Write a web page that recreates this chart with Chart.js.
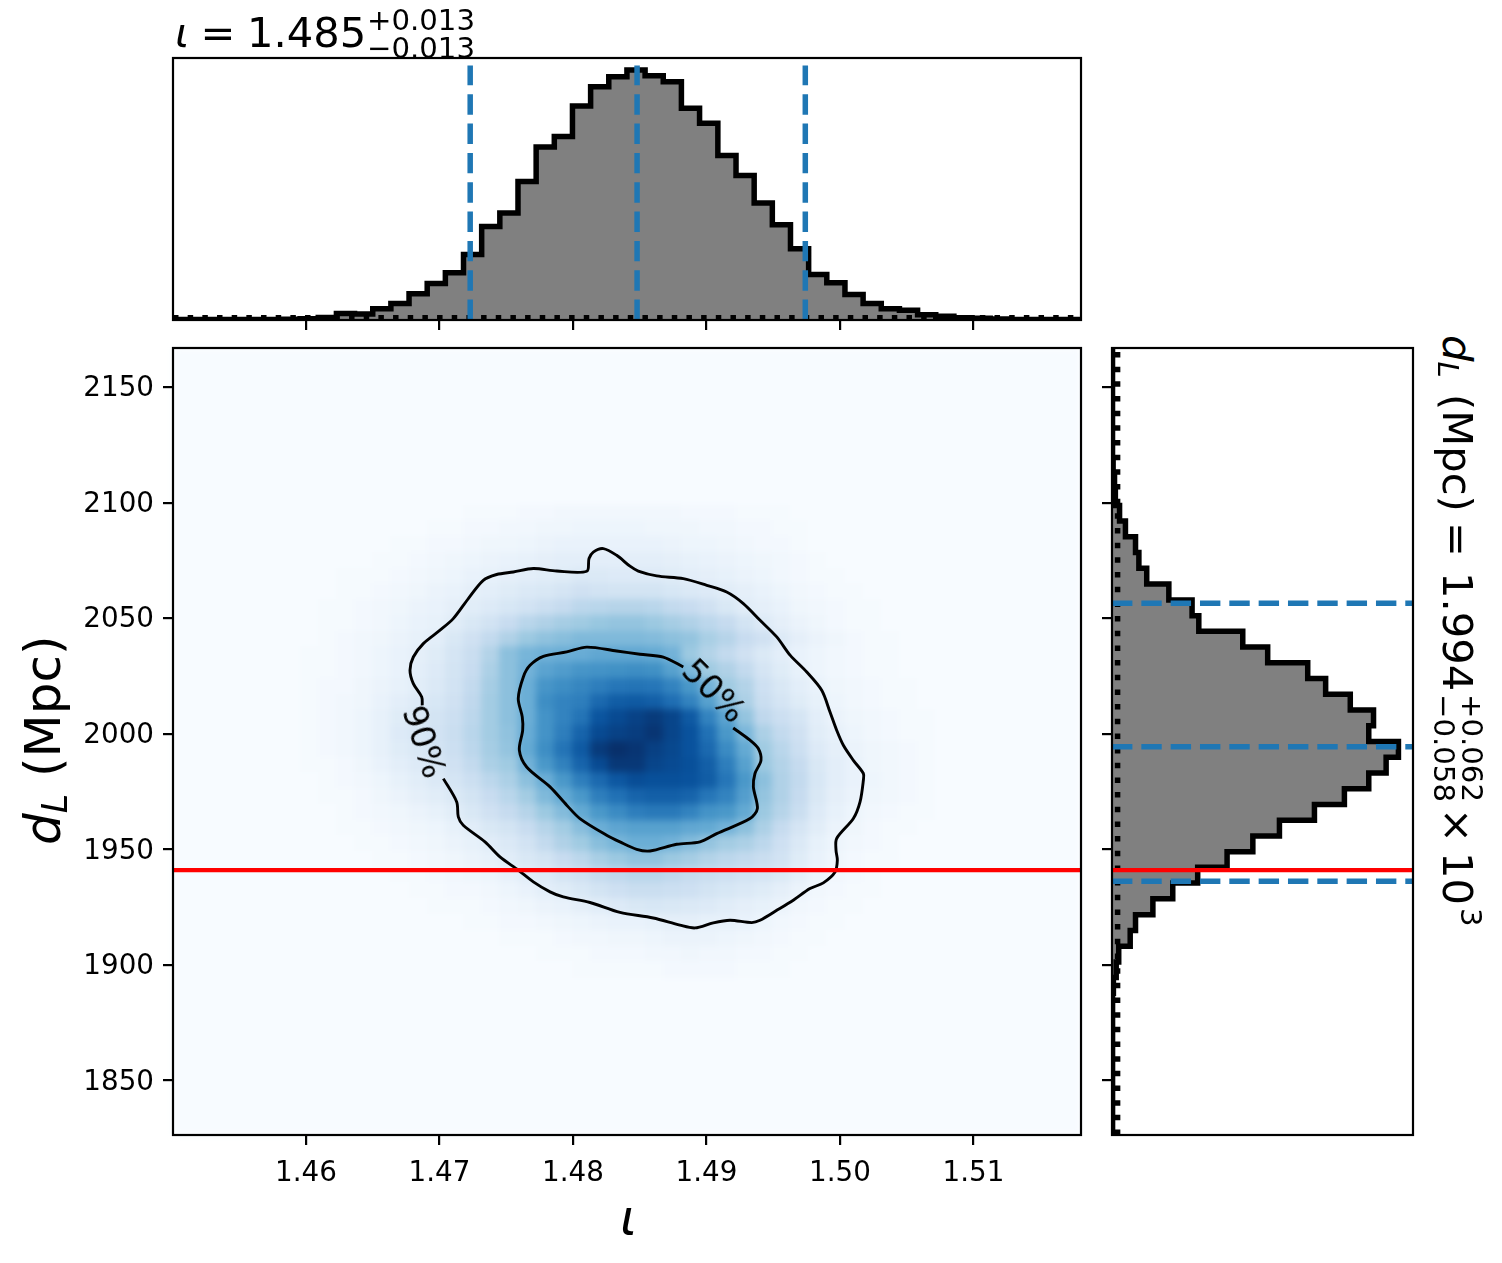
<!DOCTYPE html>
<html><head><meta charset="utf-8">
<style>
html,body{margin:0;padding:0;background:#fff;width:1502px;height:1263px;overflow:hidden}
canvas{position:absolute}
#heat{filter:blur(3.5px)}
.t{position:absolute;line-height:1;white-space:nowrap;font-family:"DejaVu Sans";color:#000}
.g{position:absolute;left:0;top:0;transform-origin:0 0}
</style>
<script src="https://cdn.jsdelivr.net/npm/chart.js@4/dist/chart.umd.js"></script>
</head><body>
<canvas id="top" style="left:0;top:28px" width="1100" height="312"></canvas>
<canvas id="heat" style="left:0;top:318px" width="1100" height="877"></canvas>
<canvas id="main" style="left:0;top:318px" width="1100" height="877"></canvas>
<canvas id="side" style="left:1090px;top:318px" width="340" height="837"></canvas>
<script>
const iotaTicks=[1.46,1.47,1.48,1.49,1.50,1.51];
const dLTicks=[1850,1900,1950,2000,2050,2100,2150];
const iotaRange=[1.45004,1.51805];
const dLRange=[1826.4,2166.9];
const iotaEdges=[1.45004,1.45140,1.45276,1.45412,1.45548,1.45684,1.45820,1.45956,1.46092,1.46228,1.46364,1.46500,1.46636,1.46772,1.46908,1.47044,1.47180,1.47316,1.47452,1.47588,1.47724,1.47860,1.47996,1.48132,1.48268,1.48404,1.48540,1.48676,1.48812,1.48948,1.49085,1.49221,1.49357,1.49493,1.49629,1.49765,1.49901,1.50037,1.50173,1.50309,1.50445,1.50581,1.50717,1.50853,1.50989,1.51125,1.51261,1.51397,1.51533,1.51669,1.51805];
const dLEdges=[1826.4,1833.2,1840.0,1846.8,1853.6,1860.5,1867.3,1874.1,1880.9,1887.7,1894.5,1901.3,1908.1,1914.9,1921.7,1928.6,1935.4,1942.2,1949.0,1955.8,1962.6,1969.4,1976.2,1983.0,1989.8,1996.7,2003.5,2010.3,2017.1,2023.9,2030.7,2037.5,2044.3,2051.1,2057.9,2064.8,2071.6,2078.4,2085.2,2092.0,2098.8,2105.6,2112.4,2119.2,2126.0,2132.9,2139.7,2146.5,2153.3,2160.1,2166.9];
const iotaHist=[.002,.002,.002,.002,.002,.002,.003,.005,.010,.026,.024,.045,.066,.105,.146,.189,.262,.375,.429,.555,.693,.735,.858,.935,.975,1.002,.979,.955,.849,.789,.659,.579,.469,.382,.286,.182,.149,.102,.066,.045,.039,.021,.015,.009,.007,.004,.002,.002,.002,.002];
const dLHist=[.002,.002,.002,.002,.002,.002,.002,.002,.002,.005,.015,.024,.065,.084,.146,.217,.306,.411,.503,.598,.723,.830,.917,.979,1.023,.917,.934,.851,.763,.699,.556,.467,.310,.286,.203,.124,.096,.084,.048,.027,.012,.009,.004,.002,.002,.002,.002,.002,.002,.002];
const iotaQuantiles=[1.4723,1.4848,1.4974];
const dLQuantiles=[1936.2,1994.4,2056.5];
const dLTrue=[1941.0];
const iotaPrior=[.009];
const dLPrior=[.020];
const heatFirstColumn=7;
const heatTopBin=39;
const density=[
[0,0,0,0,0,0,0,0,0,1,1,1,2,2,3,3,3,3,3,3,3,2,2,2,1,1,1,0,0,0,0,0,0,0,0,0],
[0,0,0,0,0,0,0,1,1,2,2,3,3,4,4,5,5,5,5,4,4,4,3,3,2,2,1,1,0,0,0,0,0,0,0,0],
[0,0,0,0,0,1,1,2,2,3,4,4,5,6,7,7,7,7,7,7,6,5,5,4,3,2,2,1,0,0,0,0,0,0,0,0],
[0,0,0,0,1,1,2,3,4,5,6,7,8,9,10,10,10,10,10,10,9,8,7,6,5,4,3,2,1,0,0,0,0,0,0,0],
[0,0,1,1,1,2,3,4,5,7,8,9,10,11,12,14,14,13,13,13,12,10,9,8,6,5,3,2,1,1,0,0,0,0,0,0],
[0,0,1,1,2,3,4,6,7,9,10,12,14,15,17,20,19,18,18,18,16,14,13,11,9,7,5,3,2,1,1,0,0,0,0,0],
[0,1,1,2,3,4,6,7,9,11,13,16,19,22,25,28,29,30,30,29,26,24,20,15,11,9,7,4,3,2,1,1,0,0,0,0],
[0,1,1,2,3,5,7,8,11,15,19,24,29,32,35,37,39,40,40,38,35,32,28,25,18,13,9,6,4,2,1,1,0,0,0,0],
[0,1,2,3,4,6,8,10,15,20,26,32,38,41,43,45,45,45,45,44,42,40,34,30,24,20,13,9,6,4,2,1,1,0,0,0],
[1,1,2,3,5,7,9,12,17,23,31,42,47,49,50,51,53,53,53,52,48,38,31,26,20,14,10,7,5,3,2,1,1,0,0,0],
[1,1,2,3,5,7,10,13,18,24,33,42,48,55,58,61,62,63,64,63,56,46,37,32,26,17,12,8,5,3,2,1,1,0,0,0],
[1,2,2,4,6,8,11,14,19,26,35,42,50,61,64,67,70,73,74,73,68,60,48,37,31,21,15,10,7,4,3,2,1,1,0,0],
[1,2,3,4,7,10,13,16,20,27,36,42,50,64,68,70,78,83,84,82,76,68,56,43,33,23,17,12,8,5,3,2,1,1,0,0],
[1,2,3,5,8,12,15,18,22,28,36,42,50,62,68,74,86,90,93,96,92,84,68,55,40,27,22,17,10,6,4,3,2,1,1,0],
[1,2,3,5,8,13,16,19,23,29,36,41,51,62,70,80,90,93,95,98,92,87,75,60,46,33,26,20,11,8,5,3,2,1,1,0],
[1,2,3,5,8,12,15,18,22,28,35,40,52,64,74,84,96,100,98,94,91,87,78,65,52,37,29,22,13,9,6,4,3,2,1,0],
[1,1,2,4,7,10,13,16,20,26,33,37,48,60,69,80,90,97,97,92,90,88,82,70,56,38,31,25,15,10,7,4,3,2,1,0],
[0,1,2,3,5,8,11,14,17,22,28,33,42,50,60,70,78,85,89,88,88,87,83,73,60,42,32,26,16,10,7,5,3,2,1,0],
[0,1,1,2,4,6,9,11,14,18,24,29,36,45,52,60,70,75,80,82,82,80,73,68,57,40,32,25,15,9,6,4,3,2,1,0],
[0,0,1,2,3,4,6,8,11,15,20,25,30,38,44,52,60,65,70,72,72,68,62,60,52,38,30,23,13,8,5,3,2,1,1,0],
[0,0,1,1,2,3,4,5,8,11,15,18,24,30,36,43,50,54,56,56,56,53,52,48,42,33,25,17,11,6,4,2,1,1,0,0],
[0,0,0,1,1,2,3,4,6,8,11,14,19,26,32,37,43,47,50,50,48,44,40,36,33,28,21,14,8,5,3,2,1,0,0,0],
[0,0,0,0,1,1,2,3,4,6,8,11,15,18,24,28,34,38,41,41,38,35,31,28,26,23,19,12,7,4,2,1,1,0,0,0],
[0,0,0,0,0,1,1,2,3,4,5,8,11,13,17,20,25,27,29,29,27,25,23,21,19,17,14,9,5,3,2,1,0,0,0,0],
[0,0,0,0,0,0,1,1,2,2,3,5,7,10,12,15,18,21,23,23,22,21,18,16,14,12,9,6,3,2,1,1,0,0,0,0],
[0,0,0,0,0,0,0,1,1,1,2,3,4,6,7,9,11,13,15,16,15,14,13,11,9,8,6,3,2,1,1,0,0,0,0,0],
[0,0,0,0,0,0,0,0,0,1,1,2,2,3,4,5,6,7,7,8,9,9,8,8,7,5,3,2,1,1,0,0,0,0,0,0],
[0,0,0,0,0,0,0,0,0,0,0,1,1,1,2,3,3,4,4,5,6,6,6,5,4,3,2,1,1,0,0,0,0,0,0,0],
[0,0,0,0,0,0,0,0,0,0,0,0,0,1,1,1,2,2,2,3,3,4,3,3,2,2,1,1,0,0,0,0,0,0,0,0],
[0,0,0,0,0,0,0,0,0,0,0,0,0,0,0,1,1,1,1,1,2,2,2,2,1,1,1,0,0,0,0,0,0,0,0,0]
];
const contour90Iota=[1.46871,1.46867,1.46804,1.46779,1.46804,1.46879,1.47004,1.47103,1.47216,1.47328,1.47428,1.47553,1.47703,1.47878,1.48103,1.48120,1.48152,1.48227,1.48327,1.48427,1.48489,1.48627,1.48826,1.49002,1.49151,1.49276,1.49401,1.49526,1.49626,1.49751,1.49863,1.49925,1.49975,1.50025,1.50100,1.50175,1.50175,1.50150,1.50100,1.49975,1.49970,1.49980,1.49963,1.49875,1.49775,1.49650,1.49526,1.49401,1.49339,1.49176,1.49051,1.48914,1.48801,1.48601,1.48352,1.48127,1.47927,1.47828,1.47703,1.47590,1.47453,1.47341,1.47178,1.47141,1.47129,1.47029];
const contour90dL=[2012.3,2015.9,2021.7,2027.5,2033.2,2039.0,2044.8,2049.8,2058.5,2066.4,2068.9,2070.0,2071.5,2070.4,2070.3,2075.8,2078.6,2080.1,2077.2,2072.5,2070.4,2068.3,2067.1,2064.2,2061.3,2056.3,2049.1,2041.9,2034.0,2026.7,2018.8,2009.4,2001.5,1995.0,1988.5,1982.8,1979.9,1970.5,1963.3,1954.7,1949.6,1945.3,1940.2,1935.5,1933.0,1928.0,1923.6,1919.3,1918.3,1919.3,1918.2,1916.0,1917.2,1920.3,1922.7,1927.0,1929.4,1931.6,1935.9,1941.0,1946.7,1953.2,1960.4,1964.0,1970.5,1980.6];
const contour50Iota=[1.48826,1.48676,1.48502,1.48327,1.48103,1.47953,1.47778,1.47678,1.47628,1.47590,1.47620,1.47623,1.47598,1.47653,1.47828,1.47953,1.48052,1.48252,1.48352,1.48477,1.48577,1.48777,1.48951,1.49076,1.49326,1.49381,1.49351,1.49363,1.49408,1.49388,1.49326,1.49200];
const contour50dL=[2028.9,2033.2,2034.4,2035.8,2037.5,2035.4,2033.5,2029.6,2024.6,2015.2,2007.3,2001.5,1992.9,1985.6,1977.0,1969.1,1963.3,1956.1,1953.2,1950.0,1949.3,1952.2,1953.2,1956.8,1963.3,1967.6,1977.0,1982.8,1988.5,1993.6,1997.2,2002.5];

const BLUE='#1f77b4',RED='#ff0000',GRAY='#808080';
const BLUES=[[247,251,255],[222,235,247],[198,219,239],[158,202,225],[107,174,214],[66,146,198],[33,113,181],[8,81,156],[8,48,107]];
function blues(v){const p=Math.min(Math.max(v,0),100)/12.5,i=Math.min(Math.floor(p),7),f=p-i;
  return 'rgb('+BLUES[i].map((c,n)=>Math.round(c+(BLUES[i+1][n]-c)*f)).join(',')+')';}
const tiles={};
function tile(v,w,h){const k=v+'_'+w+'_'+h;if(tiles[k])return tiles[k];
  const c=document.createElement('canvas');c.width=w;c.height=h;const x=c.getContext('2d');
  x.fillStyle=blues(v);x.fillRect(0,0,w,h);return tiles[k]=c;}

const framePlugin={id:'frame',
  beforeDatasetsDraw(ch,a,o){if(o.bg){const r=ch.chartArea;ch.ctx.fillStyle=o.bg;ch.ctx.fillRect(r.left,r.top,r.right-r.left,r.bottom-r.top);}},
  afterDatasetsDraw(ch,a,o){if(o.noframe)return;const r=ch.chartArea,c=ch.ctx;c.save();c.strokeStyle='#000';c.lineWidth=2.2;c.strokeRect(r.left,r.top,r.right-r.left,r.bottom-r.top);c.restore();}};
const gridTicks={display:true,drawOnChartArea:false,drawTicks:true,tickLength:10,tickWidth:2.2,tickColor:'#000',color:'#000',lineWidth:2.2};
const tickFont={family:'DejaVu Sans',size:27.78};
const noBorder={display:false};
function line(points,color,width,dash,extra){return Object.assign({type:'scatter',data:points,showLine:true,pointRadius:0,borderColor:color,borderWidth:width,borderDash:dash||[],borderCapStyle:'butt',borderJoinStyle:'miter',tension:0,fill:false,clip:0},extra||{});}
function base(plugopt){return {responsive:false,animation:false,devicePixelRatio:1,events:[],
  plugins:{legend:{display:false},tooltip:{enabled:false},title:{display:false},frame:plugopt||{}}};}
function histPolygon(edges,vals,horizontal){
  const p=[];const add=(e,v)=>p.push(horizontal?{x:v,y:e}:{x:e,y:v});
  add(edges[0],0);vals.forEach((v,i)=>{add(edges[i],v);add(edges[i+1],v);});add(edges[vals.length],0);return p;}

/* top histogram */
new Chart(document.getElementById('top'),{type:'scatter',plugins:[framePlugin],data:{datasets:[
  ...iotaQuantiles.map(q=>line([{x:q,y:0},{x:q,y:1.02}],BLUE,5.5,[20.4,8.93])),
  line([{x:iotaRange[0],y:iotaPrior[0]},{x:iotaRange[1],y:iotaPrior[0]}],'#000',5.5,[5.5,9.17]),
  line(histPolygon(iotaEdges,iotaHist,false),'#000',5.5,[],{fill:'shape',backgroundColor:GRAY})
]},options:Object.assign(base(),{layout:{padding:{left:173,right:19,top:30,bottom:0}},scales:{
  x:{type:'linear',min:iotaRange[0],max:iotaRange[1],grid:gridTicks,border:noBorder,ticks:{display:false},
    afterBuildTicks:s=>{s.ticks=iotaTicks.map(v=>({value:v}));},afterFit:s=>{s.height=20;}},
  y:{type:'linear',min:0,max:1.05,display:false}
}})});

/* density layer */
const cells=[];
density.forEach((row,r)=>row.forEach((v,c)=>{
  const k=c+heatFirstColumn,b=heatTopBin-r;
  cells.push({x:(iotaEdges[k]+iotaEdges[k+1])/2,y:(dLEdges[b]+dLEdges[b+1])/2,v});}));
new Chart(document.getElementById('heat'),{type:'scatter',plugins:[framePlugin],data:{datasets:[
  {type:'scatter',data:cells,showLine:false,clip:0,pointRadius:1,pointBorderWidth:0,
   pointStyle:ctx=>tile(ctx.raw?ctx.raw.v:0,19,17)}
]},options:Object.assign(base({bg:'#f7fbff',noframe:true}),{layout:{padding:{left:173,right:19,top:30,bottom:60}},scales:{
  x:{type:'linear',min:iotaRange[0],max:iotaRange[1],display:false},
  y:{type:'linear',min:dLRange[0],max:dLRange[1],display:false}
}})});

/* main panel */
const zip=(a,b)=>a.map((x,i)=>({x,y:b[i]}));
new Chart(document.getElementById('main'),{type:'scatter',plugins:[framePlugin],data:{datasets:[
  line([{x:iotaRange[0],y:dLTrue[0]},{x:iotaRange[1],y:dLTrue[0]}],RED,4.2),
  line(zip(contour50Iota,contour50dL),'#000',2.9,[],{tension:.3,borderJoinStyle:'round'}),
  line(zip(contour90Iota,contour90dL),'#000',2.9,[],{tension:.3,borderJoinStyle:'round'})
]},options:Object.assign(base(),{layout:{padding:{left:0,right:19,top:30,bottom:0}},scales:{
  x:{type:'linear',min:iotaRange[0],max:iotaRange[1],grid:gridTicks,border:noBorder,
    ticks:{font:tickFont,color:'#000',padding:12,maxRotation:0,autoSkip:false,callback:v=>v.toFixed(2)},
    afterBuildTicks:s=>{s.ticks=iotaTicks.map(v=>({value:v}));},afterFit:s=>{s.height=60;}},
  y:{type:'linear',min:dLRange[0],max:dLRange[1],grid:gridTicks,border:noBorder,
    ticks:{font:tickFont,color:'#000',padding:9,labelOffset:2,autoSkip:false,callback:v=>String(v)},
    afterBuildTicks:s=>{s.ticks=dLTicks.map(v=>({value:v}));},afterFit:s=>{s.width=173;}}
}})});

/* side histogram */
new Chart(document.getElementById('side'),{type:'scatter',plugins:[framePlugin],data:{datasets:[
  line([{x:0,y:dLTrue[0]},{x:1.075,y:dLTrue[0]}],RED,4.2),
  ...dLQuantiles.map(q=>line([{x:0,y:q},{x:1.075,y:q}],BLUE,5.5,[20.4,8.93])),
  line([{x:dLPrior[0],y:dLRange[0]},{x:dLPrior[0],y:dLRange[1]}],'#000',5.5,[5.5,9.17]),
  line(histPolygon(dLEdges,dLHist,true),'#000',5.5,[],{fill:'shape',backgroundColor:GRAY})
]},options:Object.assign(base(),{layout:{padding:{left:0,right:17,top:30,bottom:20}},scales:{
  x:{type:'linear',min:0,max:1.075,display:false},
  y:{type:'linear',min:dLRange[0],max:dLRange[1],grid:gridTicks,border:noBorder,ticks:{display:false},
    afterBuildTicks:s=>{s.ticks=dLTicks.map(v=>({value:v}));},afterFit:s=>{s.width=22;}}
}})});

/* text */
const ASC=.846,MAIN=41.67,SCRIPT=29.2,LABEL=50;
function frag(parent,str,x,base,fs,it){const s=document.createElement('span');s.className='t';s.textContent=str;
  s.style.left=x+'px';s.style.top=(base-ASC*fs)+'px';s.style.fontSize=fs+'px';if(it)s.style.fontStyle='oblique';parent.appendChild(s);return s;}
function group(x,y,rot){const g=document.createElement('div');g.className='g';g.style.transform='translate('+x+'px,'+y+'px) rotate('+rot+'deg)';document.body.appendChild(g);return g;}
function centred(str,x,y,fs,rot){const s=document.createElement('span');s.className='t';s.textContent=str;s.style.left=x+'px';s.style.top=y+'px';s.style.fontSize=fs+'px';
  s.style.transform='translate(-50%,-50%) rotate('+rot+'deg)';document.body.appendChild(s);}

const t1=group(0,0,0);
frag(t1,'ι',175,47.7,MAIN,true);frag(t1,'=',200.6,47.7,MAIN);frag(t1,'1.485',247,47.7,MAIN);
frag(t1,'+0.013',367,30.5,SCRIPT);frag(t1,'−0.013',367,58.5,SCRIPT);

const t2=group(1443,335,90);
frag(t2,'d',0,0,MAIN,true);frag(t2,'L',26.5,6,SCRIPT,true);frag(t2,'(Mpc)',59,0,MAIN);frag(t2,'=',187,0,MAIN);frag(t2,'1.994',237,0,MAIN);
frag(t2,'+0.062',359,-18,SCRIPT);frag(t2,'−0.058',359,10,SCRIPT);frag(t2,'×',473,0,MAIN);frag(t2,'10',517,0,MAIN);frag(t2,'3',573,-17,SCRIPT);

const t3=group(60,845,-90);
frag(t3,'d',0,0,LABEL,true);frag(t3,'L',31.75,8,35,true);frag(t3,'(Mpc)',68,0,LABEL);

frag(document.body,'ι',620,1235,LABEL,true);
centred('50%',714,691,33.3,45);
centred('90%',424,742,33.3,72);
</script>
</body></html>
